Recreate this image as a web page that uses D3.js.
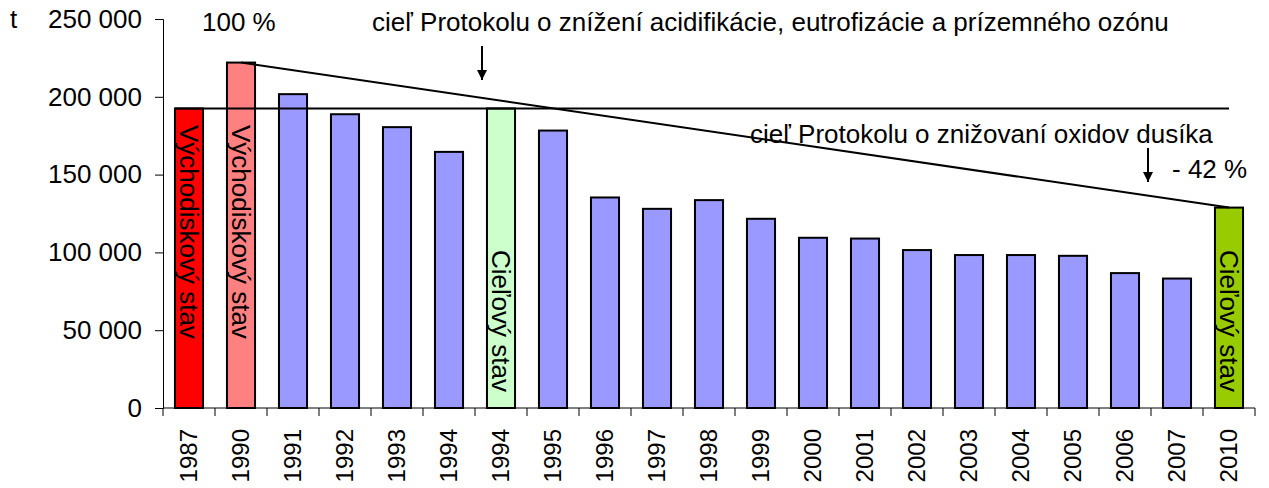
<!DOCTYPE html>
<html>
<head>
<meta charset="utf-8">
<script src="https://cdn.jsdelivr.net/npm/d3@7"></script>
<style>
  body { margin: 0; background: #fff; }
  svg { font-family: "Liberation Sans", Arial, sans-serif; }
</style>
</head>
<body>
<svg id="chart" width="1269" height="488"></svg>
<script>
// data
var years = ['1987', '1990', '1991', '1992', '1993', '1994', '1994', '1995', '1996', '1997',
  '1998', '1999', '2000', '2001', '2002', '2003', '2004', '2005', '2006', '2007', '2010'];
var emissions = [192500, 222000, 201700, 188800, 180500, 164600, 192500, 178300, 135300, 128000,
  133600, 121600, 109400, 108900, 101500, 98300, 98300, 97800, 86700, 83200, 128800];
var barColors = ['#ff0000', '#ff8080', '#9999ff', '#9999ff', '#9999ff', '#9999ff', '#ccffcc', '#9999ff',
  '#9999ff', '#9999ff', '#9999ff', '#9999ff', '#9999ff', '#9999ff', '#9999ff', '#9999ff', '#9999ff',
  '#9999ff', '#9999ff', '#9999ff', '#99cc00'];
var yTicks = [0, 50000, 100000, 150000, 200000, 250000];

var margin = {top: 19, left: 163, right: 14, bottom: 80},
    width = 1269,
    height = 488,
    fontSize = 26;

var svg = d3.select('#chart');

var x = d3.scaleBand()
    .domain(d3.range(years.length))
    .range([margin.left, width - margin.right])
    .paddingInner(0.46)
    .paddingOuter(0.23);

var y = d3.scaleLinear()
    .domain([0, 250000])
    .range([height - margin.bottom, margin.top]);

var fmt = d3.formatLocale({decimal: ',', thousands: ' ', grouping: [3], currency: ['', '']}).format(',');

// bars
svg.append('g')
    .selectAll('rect')
    .data(emissions)
    .enter()
    .append('rect')
    .attr('x', (d, i) => x(i))
    .attr('y', d => y(d))
    .attr('width', x.bandwidth())
    .attr('height', d => y(0) - y(d))
    .attr('fill', (d, i) => barColors[i])
    .attr('stroke', '#000')
    .attr('stroke-width', 2);

// y axis
var yAxis = svg.append('g')
    .attr('transform', 'translate(' + margin.left + ',0)')
    .call(d3.axisLeft(y).tickValues(yTicks).tickFormat(fmt).tickSize(8).tickPadding(13));

yAxis.select('.domain').attr('stroke', '#000');
yAxis.selectAll('.tick line').attr('stroke', '#000');
yAxis.selectAll('.tick text').attr('font-size', fontSize).attr('fill', '#000')
    .attr('font-family', '"Liberation Sans", Arial, sans-serif');

// x axis (ticks between categories)
var step = x.step();
var xAxis = svg.append('g')
    .attr('transform', 'translate(0,' + y(0) + ')');
xAxis.append('line')
    .attr('x1', margin.left).attr('x2', margin.left + step * years.length)
    .attr('stroke', '#000');
xAxis.selectAll('.tk')
    .data(d3.range(years.length + 1))
    .enter()
    .append('line')
    .attr('x1', i => margin.left + i * step)
    .attr('x2', i => margin.left + i * step)
    .attr('y1', 0).attr('y2', 8)
    .attr('stroke', '#000');
xAxis.selectAll('text')
    .data(years)
    .enter()
    .append('text')
    .attr('transform', (d, i) => 'translate(' + (x(i) + x.bandwidth() / 2) + ',21) rotate(-90)')
    .attr('dy', '0.35em')
    .attr('text-anchor', 'end')
    .attr('font-size', 24)
    .attr('fill', '#000')
    .text(d => d);

// reference lines
var iLast = years.length - 1;
svg.append('line')
    .attr('x1', x(0)).attr('x2', x(iLast) + x.bandwidth() / 2)
    .attr('y1', y(emissions[6])).attr('y2', y(emissions[6]))
    .attr('stroke', '#000').attr('stroke-width', 2);
svg.append('line')
    .attr('x1', x(1) + x.bandwidth() / 2).attr('x2', x(iLast) + x.bandwidth() / 2)
    .attr('y1', y(emissions[1])).attr('y2', y(emissions[iLast]))
    .attr('stroke', '#000').attr('stroke-width', 2);

// labels inside bars
function barLabel(i, txt, pos, anchor) {
  svg.append('text')
      .attr('transform', 'translate(' + (x(i) + x.bandwidth() / 2) + ',' + pos + ') rotate(90)')
      .attr('dy', '0.35em')
      .attr('text-anchor', anchor)
      .attr('font-size', fontSize)
      .text(txt);
}
barLabel(0, 'Východiskový stav', 125, 'start');
barLabel(1, 'Východiskový stav', 125, 'start');
barLabel(6, 'Cieľový stav', 392, 'end');
barLabel(iLast, 'Cieľový stav', 392, 'end');

// annotations
var defs = svg.append('defs');
defs.append('marker')
    .attr('id', 'arr')
    .attr('viewBox', '0 0 10 10')
    .attr('refX', 10).attr('refY', 5)
    .attr('markerWidth', 5).attr('markerHeight', 5)
    .attr('markerUnits', 'strokeWidth')
    .attr('orient', 'auto')
    .append('path').attr('d', 'M0,0 L10,5 L0,10 z').attr('fill', '#000');

function arrow(x0, y0, y1) {
  svg.append('line')
      .attr('x1', x0).attr('x2', x0).attr('y1', y0).attr('y2', y1)
      .attr('stroke', '#000').attr('stroke-width', 2)
      .attr('marker-end', 'url(#arr)');
}
function note(tx, ty, txt) {
  svg.append('text').attr('x', tx).attr('y', ty)
      .attr('font-size', fontSize).text(txt);
}

note(10, 28, 't');
note(202, 31, '100 %');
note(372, 31, 'cieľ Protokolu o znížení acidifikácie, eutrofizácie a prízemného ozónu');
arrow(482, 46, 80);
note(750, 143, 'cieľ Protokolu o znižovaní oxidov dusíka');
arrow(1148, 148, 182);
note(1172, 178, '- 42 %');
</script>
</body>
</html>
